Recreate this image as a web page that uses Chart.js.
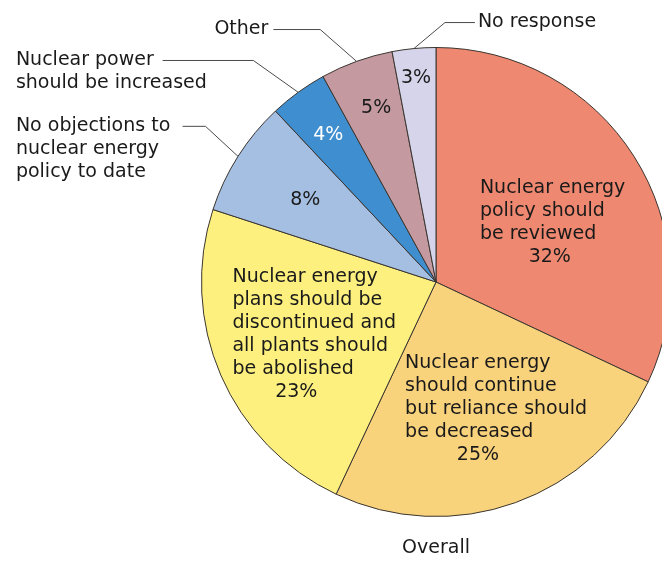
<!DOCTYPE html>
<html>
<head>
<meta charset="utf-8">
<script src="https://cdn.jsdelivr.net/npm/chart.js@4"></script>
<style>
  body { margin: 0; background: #fff; }
  .wrap { width: 662px; height: 561px; overflow: hidden; position: relative; }
</style>
</head>
<body>
<div class="wrap"><canvas id="pieChart" width="680" height="561"></canvas></div>
<script>
// Data
const categories = [
    'Nuclear energy policy should be reviewed',
    'Nuclear energy should continue but reliance should be decreased',
    'Nuclear energy plans should be discontinued and all plants should be abolished',
    'No objections to nuclear energy policy to date',
    'Nuclear power should be increased',
    'Other',
    'No response'
];
const shares = [32, 25, 23, 8, 4, 5, 3];
const sliceText = [
    ['Nuclear energy', 'policy should', 'be reviewed'],
    ['Nuclear energy', 'should continue', 'but reliance should', 'be decreased'],
    ['Nuclear energy', 'plans should be', 'discontinued and', 'all plants should', 'be abolished'],
    [], [], [], []
];
const calloutText = [
    null, null, null,
    ['No objections to', 'nuclear energy', 'policy to date'],
    ['Nuclear power', 'should be increased'],
    ['Other'],
    ['No response']
];
const chartTitle = 'Overall';

// Colors
const sliceColors = ['#ee8870', '#f9d27c', '#fdf07f', '#a5bfe2', '#3f8ed0', '#c49aa0', '#d6d4ea'];
const textColor = '#1a1a1a';
const lineColor = '#4a4a4a';
const font = "19px 'DejaVu Sans', sans-serif";

// label placement, pixel offsets from pie centre (for a 235px radius)
const pctPos = [[114, -25], [42, 173], [-140, 110], [-131, -82], [-108, -147], [-60, -174], [-20, -204]];
const textLeft = [44, -31, -204];
const elbowPos = [null, null, null, [-231, -156], [-183, -222], [-116, -253], [9, -260]];
const lineEnd = [null, null, null, -254, -274, -163, 39];
const calloutX = [null, null, null, -421, -421, -168, 42];
const lineGap = 23;

const labelPlugin = {
    id: 'sliceLabels',
    afterDatasetsDraw(chart) {
        const ctx = chart.ctx;
        const arcs = chart.getDatasetMeta(0).data;
        const cx = arcs[0].x, cy = arcs[0].y, R = arcs[0].outerRadius;
        const k = R / 235;
        ctx.save();
        ctx.font = font;
        ctx.fillStyle = textColor;
        ctx.textBaseline = 'middle';

        arcs.forEach((arc, i) => {
            const px = cx + pctPos[i][0] * k;
            const py = cy + pctPos[i][1] * k;
            const lines = sliceText[i];
            ctx.textAlign = 'left';
            ctx.fillStyle = textColor;
            lines.forEach((t, j) => {
                ctx.fillText(t, cx + textLeft[i] * k, py - (lines.length - j) * lineGap);
            });
            ctx.textAlign = 'center';
            ctx.fillStyle = i === 4 ? '#ffffff' : textColor;
            ctx.fillText(shares[i] + '%', px, py);

            // callouts
            if (calloutText[i]) {
                const mid = (arc.startAngle + arc.endAngle) / 2;
                const sx = cx + Math.cos(mid) * R;
                const sy = cy + Math.sin(mid) * R;
                const ex = cx + elbowPos[i][0] * k;
                const ey = cy + elbowPos[i][1] * k;
                ctx.strokeStyle = lineColor;
                ctx.lineWidth = 1;
                ctx.beginPath();
                ctx.moveTo(sx, sy);
                ctx.lineTo(ex, ey);
                ctx.lineTo(cx + lineEnd[i] * k, ey);
                ctx.stroke();
                ctx.fillStyle = textColor;
                const right = calloutX[i] < elbowPos[i][0] && calloutText[i].length === 1;
                ctx.textAlign = right ? 'right' : 'left';
                calloutText[i].forEach((t, j) => {
                    ctx.fillText(t, cx + calloutX[i] * k, ey + j * lineGap);
                });
            }
        });

        ctx.textAlign = 'center';
        ctx.fillStyle = textColor;
        ctx.fillText(chartTitle, cx, cy + R + 32);
        ctx.restore();
    }
};

const pieChart = new Chart(document.getElementById('pieChart'), {
    type: 'pie',
    data: {
        labels: categories,
        datasets: [{
            data: shares,
            backgroundColor: sliceColors,
            borderColor: '#3a3530',
            borderWidth: 1,
        }]
    },
    options: {
        responsive: false,
        animation: false,
        layout: {
            padding: { left: 201, right: 9, top: 47, bottom: 44 }
        },
        plugins: {
            legend: { display: false },
            tooltip: { enabled: false },
        }
    },
    plugins: [labelPlugin]
});
</script>
</body>
</html>
